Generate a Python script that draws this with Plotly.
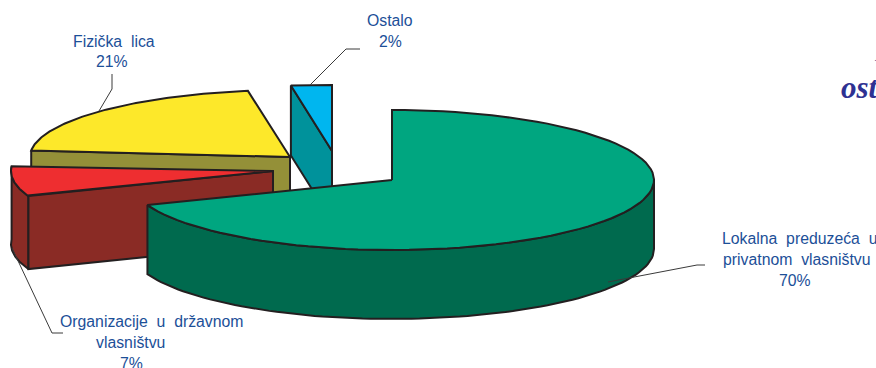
import numpy as np
import plotly.graph_objects as go

# Share of each owner group, in percent
groups = ["Lokalna preduzeća u privatnom vlasništvu", "Organizacije u državnom vlasništvu", "Fizička lica", "Ostalo"]
shares = [70, 7, 21, 2]

top_colors = ["#00a680", "#ee2e30", "#fde82a", "#00b6ef"]
side_colors = ["#006a4e", "#8a2b25", "#949038", "#00929b"]

EDGE = "#231f20"
LABEL = "#1c4f98"
WIDTH, HEIGHT = 876, 368

# Exploded placement of each slice: centre, radii, wall height and the
# slight foreshortening of the tilted disc
placement = [
    dict(cx=392, cy=180, rx=262, ry=70, depth=69, squeeze=0.988),
    dict(cx=273, cy=171, rx=262, ry=70, depth=73, squeeze=0.988),
    dict(cx=290, cy=157, rx=260, ry=67, depth=70, squeeze=0.994),
    dict(cx=332, cy=151, rx=328, ry=66, depth=70, squeeze=1.0),
]

fig = go.Figure()


def rim(p, a0, a1, drop=0.0, n=90):
    """Points of the slice edge between two clockwise angles (degrees from twelve o'clock)."""
    t = np.radians(np.linspace(a0, a1, n))
    return p["cx"] + p["rx"] * np.sin(t), p["cy"] - p["ry"] * np.cos(t) + drop


def face(xs, ys, color):
    fig.add_trace(go.Scatter(
        x=list(xs), y=list(ys), mode="lines", fill="toself", fillcolor=color,
        line=dict(color=EDGE, width=2, shape="linear"), hoverinfo="skip", showlegend=False,
    ))


def wall(p, a0, a1, color):
    x0, y0 = rim(p, a0, a1)
    x1, y1 = rim(p, a0, a1, p["depth"])
    face(np.r_[x0, x1[::-1], x0[0]], np.r_[y0, y1[::-1], y0[0]], color)


def cut(p, angle, color):
    x, y = rim(p, angle, angle, n=1)
    d = p["depth"]
    face([x[0], p["cx"], p["cx"], x[0], x[0]],
         [y[0], p["cy"], p["cy"] + d, y[0] + d, y[0]], color)


def top(p, a0, a1, color):
    x, y = rim(p, a0, a1)
    face(np.r_[p["cx"], x, p["cx"]], np.r_[p["cy"], y, p["cy"]], color)


# Cumulative clockwise angles from the shares
edges = np.r_[0, np.cumsum(shares)] * 3.6
spans = [(edges[i] * placement[i]["squeeze"], edges[i + 1] * placement[i]["squeeze"]) for i in range(4)]

# Painted back to front: Ostalo, Fizička lica, Organizacije, Lokalna preduzeća
a0, a1 = spans[3]
cut(placement[3], a0, side_colors[3])
top(placement[3], a0, a1, top_colors[3])

a0, a1 = spans[2]
cut(placement[2], a0, side_colors[2])
top(placement[2], a0, a1, top_colors[2])

a0, a1 = spans[1]
wall(placement[1], a0, a1, side_colors[1])
cut(placement[1], a0, side_colors[1])
top(placement[1], a0, a1, top_colors[1])

a0, a1 = spans[0]
wall(placement[0], 90, a1, side_colors[0])
top(placement[0], a0, a1, top_colors[0])

# Leader lines from the slices to their labels
leaders = [
    ([310, 346, 360], [85, 49, 49]),
    ([99, 112, 112], [111, 89, 74]),
    ([608, 697, 705], [282, 265, 265]),
    ([12, 52, 63], [248, 333, 333]),
]
for lx, ly in leaders:
    fig.add_trace(go.Scatter(x=lx, y=ly, mode="lines", line=dict(color="#3a3a3a", width=1),
                             hoverinfo="skip", showlegend=False))

SP = "\u00a0\u00a0"
label_lines = [
    ("Ostalo", 390, 20), (f"{shares[3]}%", 390, 41),
    (f"Fizička{SP}lica", 114, 41), (f"{shares[2]}%", 112, 61),
    (f"Lokalna{SP}preduzeća{SP}u", 799, 238), (f"privatnom{SP}vlasništvu", 797, 259), (f"{shares[0]}%", 795, 280),
    (f"Organizacije{SP}u{SP}državnom", 152, 321), ("vlasništvu", 130, 342), (f"{shares[1]}%", 131, 363),
]
annotations = [
    dict(x=x, y=y, text=t, xref="x", yref="y", showarrow=False, xanchor="center", yanchor="middle",
         font=dict(family="Liberation Sans", size=15.8, color=LABEL))
    for t, x, y in label_lines
]
# Fragments of the page heading next to the chart
annotations.append(dict(x=839, y=87, text="<b><i>ost</i></b>", xref="x", yref="y", showarrow=False,
                        xanchor="left", yanchor="middle",
                        font=dict(family="Liberation Serif", size=31, color="#2e3192")))
annotations.append(dict(x=872, y=56, text="<b><i>I</i></b>", xref="x", yref="y", showarrow=False,
                        xanchor="left", yanchor="middle",
                        font=dict(family="Liberation Serif", size=15, color="#2e3192")))

fig.update_layout(
    width=WIDTH, height=HEIGHT, margin=dict(l=0, r=0, t=0, b=0),
    paper_bgcolor="white", plot_bgcolor="white", showlegend=False,
    xaxis=dict(range=[0, WIDTH], visible=False, fixedrange=True),
    yaxis=dict(range=[HEIGHT, 0], visible=False, fixedrange=True),
    annotations=annotations,
)
fig.write_html("out.html", config=dict(displayModeBar=False))
